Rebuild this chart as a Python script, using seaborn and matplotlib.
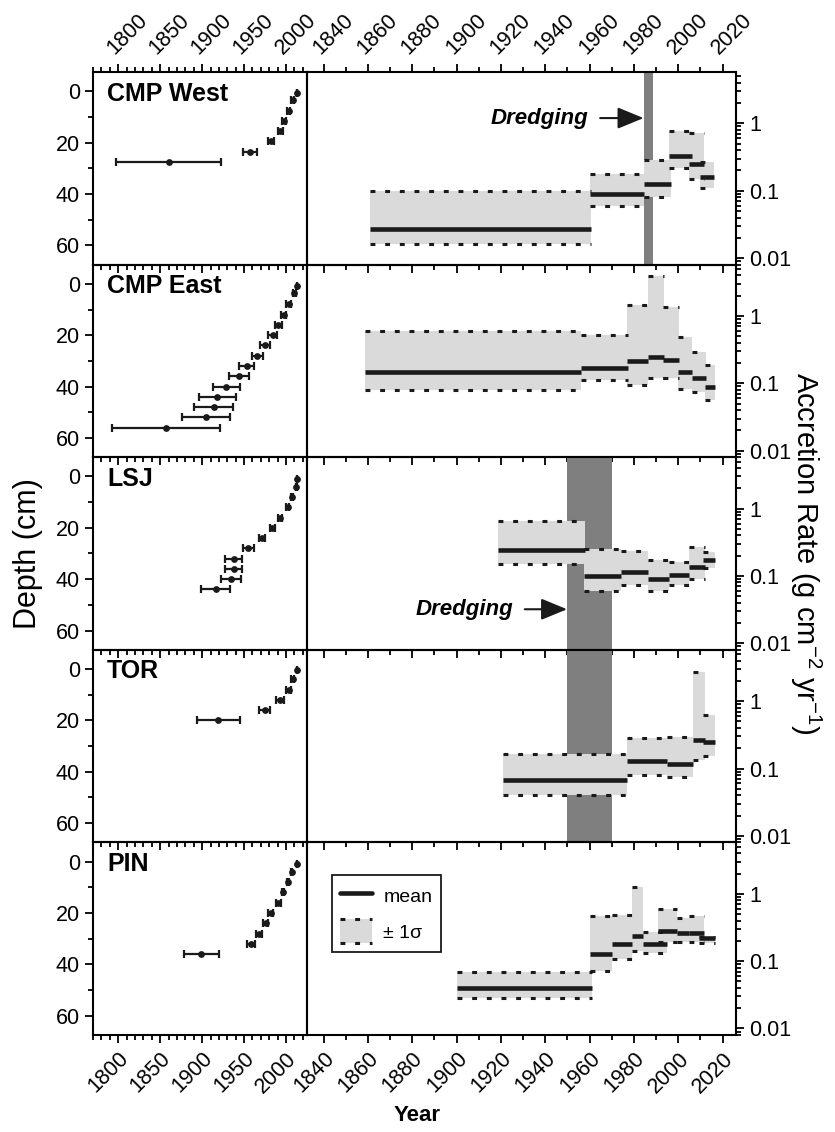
import numpy as np
import matplotlib
matplotlib.use("Agg")
import matplotlib.pyplot as plt
import seaborn as sns
from matplotlib.lines import Line2D
from matplotlib.patches import Rectangle
from matplotlib.legend_handler import HandlerBase
from matplotlib.ticker import MultipleLocator, LogLocator, NullFormatter

# --- data ---
CORES = ["CMP West", "CMP East", "LSJ", "TOR", "PIN"]

# depth profiles: year, depth (cm), +/- year error
CMPW_YEAR = [2013, 2008, 2003, 1998, 1993, 1982, 1957, 1860]
CMPW_DEPTH = [0.5, 3.5, 7.5, 11.5, 15.5, 19.5, 23.5, 27.5]
CMPW_ERR = [0.5, 1.5, 2, 2.5, 3, 4, 8.7, 62.7]

CMPE_YEAR = [2013, 2010, 2003, 1997, 1991, 1984, 1975, 1966, 1953, 1944, 1929, 1918, 1914, 1905, 1857]
CMPE_DEPTH = [1, 3.5, 8, 12, 16, 20, 24, 28, 32, 36, 40, 44, 48, 52, 56]
CMPE_ERR = [0.5, 2, 2.5, 3.5, 4, 5, 6, 6.5, 9, 11.7, 16.5, 22, 23.4, 28.6, 64]

LSJ_YEAR = [2013, 2012, 2007.5, 2002, 1993, 1983.5, 1971, 1955, 1937.5, 1937.5, 1934, 1916]
LSJ_DEPTH = [1, 4, 8, 12, 16, 20, 24, 28, 32, 36, 40, 44]
LSJ_ERR = [0.5, 0.5, 1, 1.5, 2.5, 3, 3.5, 6.7, 10.5, 10, 12, 17.7]

TOR_YEAR = [2013, 2008, 2003, 1993, 1974.5, 1919.5]
TOR_DEPTH = [0.5, 4, 8, 12, 16, 20]
TOR_ERR = [0.5, 2, 2.5, 5, 7, 26]

PIN_YEAR = [2013, 2007, 2002.5, 1996.5, 1991, 1982, 1976, 1968, 1958, 1899]
PIN_DEPTH = [1, 4, 8, 12, 16, 20, 24, 28, 32, 36]
PIN_ERR = [0.5, 0.5, 1, 1.5, 2.5, 3, 3, 3.5, 5, 21]

# accretion rate intervals: start, end, mean, mean-1sd, mean+1sd (g cm-2 yr-1)
CMPW_START = [1861, 1960, 1984.5, 1996, 2005, 2010]
CMPW_END = [1960.5, 1984.5, 1996.5, 2006, 2011.5, 2016]
CMPW_MEAN = [0.0274, 0.089, 0.126, 0.333, 0.251, 0.158]
CMPW_LOW = [0.016, 0.060, 0.081, 0.219, 0.150, 0.110]
CMPW_HIGH = [0.100, 0.178, 0.290, 0.760, 0.720, 0.265]

CMPE_START = [1858.5, 1956, 1977, 1986.5, 1993, 2000, 2006, 2012]
CMPE_END = [1956, 1977.5, 1986.5, 1993.5, 2000.3, 2006.3, 2012.3, 2016.5]
CMPE_MEAN = [0.146, 0.167, 0.213, 0.244, 0.223, 0.146, 0.119, 0.087]
CMPE_LOW = [0.080, 0.113, 0.096, 0.119, 0.119, 0.082, 0.075, 0.056]
CMPE_HIGH = [0.59, 0.53, 1.45, 3.95, 1.36, 0.486, 0.29, 0.187]

LSJ_START = [1918.5, 1957.5, 1974, 1986.5, 1996, 2005, 2011]
LSJ_END = [1958, 1974, 1986.5, 1996, 2005, 2012, 2016.5]
LSJ_MEAN = [0.246, 0.099, 0.115, 0.090, 0.102, 0.136, 0.171]
LSJ_LOW = [0.152, 0.060, 0.0725, 0.060, 0.0725, 0.091, 0.133]
LSJ_HIGH = [0.655, 0.255, 0.236, 0.171, 0.162, 0.271, 0.228]

TOR_START = [1921, 1977, 1995, 2006.5, 2011]
TOR_END = [1977, 1995, 2006.5, 2012, 2016.5]
TOR_MEAN = [0.0678, 0.128, 0.115, 0.262, 0.247]
TOR_LOW = [0.041, 0.081, 0.074, 0.135, 0.151]
TOR_HIGH = [0.166, 0.287, 0.290, 2.68, 0.618]

PIN_START = [1900, 1960, 1970, 1979, 1984, 1991, 1999.5, 2005, 2009.5]
PIN_END = [1961, 1970, 1979, 1984, 1995, 1999.5, 2005, 2011.5, 2016.5]
PIN_MEAN = [0.040, 0.126, 0.178, 0.236, 0.178, 0.280, 0.260, 0.265, 0.218]
PIN_LOW = [0.0283, 0.071, 0.107, 0.141, 0.133, 0.190, 0.190, 0.190, 0.184]
PIN_HIGH = [0.069, 0.474, 0.486, 1.26, 0.274, 0.590, 0.430, 0.470, 0.230]

# dredging periods (None = no dredging shown)
DREDGE = [(1984.5, 1988.7), None, (1950, 1970), (1950, 1970), None]

DEPTHS = [(CMPW_YEAR, CMPW_DEPTH, CMPW_ERR), (CMPE_YEAR, CMPE_DEPTH, CMPE_ERR),
          (LSJ_YEAR, LSJ_DEPTH, LSJ_ERR), (TOR_YEAR, TOR_DEPTH, TOR_ERR),
          (PIN_YEAR, PIN_DEPTH, PIN_ERR)]
RATES = [(CMPW_START, CMPW_END, CMPW_MEAN, CMPW_LOW, CMPW_HIGH),
         (CMPE_START, CMPE_END, CMPE_MEAN, CMPE_LOW, CMPE_HIGH),
         (LSJ_START, LSJ_END, LSJ_MEAN, LSJ_LOW, LSJ_HIGH),
         (TOR_START, TOR_END, TOR_MEAN, TOR_LOW, TOR_HIGH),
         (PIN_START, PIN_END, PIN_MEAN, PIN_LOW, PIN_HIGH)]

BAND_COLOR = "#dadada"
DREDGE_COLOR = "#7f7f7f"
TICK_FS = 15.5
DASH = (1.6, 3.2)

sns.set_theme(style="ticks")
plt.rcParams["font.family"] = ["Liberation Sans", "DejaVu Sans"]
plt.rcParams["mathtext.fontset"] = "custom"
plt.rcParams["mathtext.rm"] = "Liberation Sans"
plt.rcParams["mathtext.it"] = "Liberation Sans:italic"
plt.rcParams["axes.linewidth"] = 1.5
plt.rcParams["axes.edgecolor"] = "black"
plt.rcParams["text.color"] = "black"
plt.rcParams["axes.labelcolor"] = "black"
plt.rcParams["xtick.color"] = "black"
plt.rcParams["ytick.color"] = "black"


class BandHandler(HandlerBase):
    """legend key: grey box with dashed top and bottom edges"""
    def create_artists(self, legend, orig_handle, xdescent, ydescent,
                       width, height, fontsize, trans):
        x0, y0 = -xdescent, -ydescent
        rect = Rectangle((x0, y0), width, height, facecolor=BAND_COLOR,
                         edgecolor="none", transform=trans)
        top = Line2D([x0, x0 + width], [y0 + height] * 2, color="k", lw=2.2,
                     dashes=DASH, transform=trans)
        bot = Line2D([x0, x0 + width], [y0] * 2, color="k", lw=2.2,
                     dashes=DASH, transform=trans)
        return [rect, top, bot]


def style_xticks(ax, first, last, major, minor):
    ax.xaxis.set_minor_locator(MultipleLocator(minor))
    ax.tick_params(axis="x", which="both", direction="out", top=first, labeltop=first,
                   bottom=True, labelbottom=last, labelsize=TICK_FS, width=1.3)
    ax.tick_params(axis="x", which="major", length=6)
    ax.tick_params(axis="x", which="minor", length=3.5)
    for t in ax.xaxis.get_major_ticks():
        t.label1.set_rotation(45)
        t.label1.set_ha("right")
        t.label1.set_va("top")
        t.label1.set_rotation_mode("anchor")
        t.label2.set_rotation(45)
        t.label2.set_ha("left")
        t.label2.set_va("bottom")
        t.label2.set_rotation_mode("anchor")


fig = plt.figure(figsize=(8.35, 11.32), dpi=100)
gs = fig.add_gridspec(5, 2, width_ratios=[214, 429], left=0.1114, right=0.8814,
                      top=0.9364, bottom=0.0857, hspace=0, wspace=0)

for i, core in enumerate(CORES):
    first, last = i == 0, i == len(CORES) - 1

    # --- left: depth vs year ---
    axl = fig.add_subplot(gs[i, 0])
    axl.set_facecolor("none")
    yr, dp, er = DEPTHS[i]
    axl.errorbar(yr, dp, xerr=er, fmt="none", ecolor="k", elinewidth=1.6,
                 capsize=3.2, capthick=1.6, zorder=2)
    sns.scatterplot(x=yr, y=dp, ax=axl, color="k", s=24, linewidth=0, zorder=3, legend=False)
    axl.set_xlim(1770, 2025)
    axl.set_ylim(67.5, -7.5)
    axl.set_xticks([1800, 1850, 1900, 1950, 2000])
    axl.set_yticks([0, 20, 40, 60])
    axl.yaxis.set_minor_locator(MultipleLocator(10))
    axl.tick_params(axis="y", which="both", direction="out", left=True, right=False,
                    labelsize=TICK_FS, width=1.3)
    axl.tick_params(axis="y", which="major", length=6)
    axl.tick_params(axis="y", which="minor", length=3.5)
    style_xticks(axl, first, last, 50, 10)
    axl.set_xlabel("")
    axl.set_ylabel("")
    axl.text(0.065, 0.95, core, transform=axl.transAxes, ha="left", va="top",
             fontsize=18, fontweight="bold", color="black")

    # --- right: accretion rate ---
    axr = fig.add_subplot(gs[i, 1])
    axr.set_facecolor("none")
    st, en, mn, lo, hi = RATES[i]
    if DREDGE[i] is not None:
        axr.axvspan(DREDGE[i][0], DREDGE[i][1], color=DREDGE_COLOR, lw=0, zorder=1)
    for s, e, l, h in zip(st, en, lo, hi):
        axr.fill_between([s, e], [l, l], [h, h], color=BAND_COLOR, lw=0, zorder=2)
    for s, e, l, h in zip(st, en, lo, hi):
        axr.plot([s, e], [h, h], color="k", lw=2.2, dashes=DASH, zorder=3)
        axr.plot([s, e], [l, l], color="k", lw=2.2, dashes=DASH, zorder=3)
    for s, e, m in zip(st, en, mn):
        axr.plot([s, e], [m, m], color="k", lw=3.3, solid_capstyle="butt", zorder=4)
    axr.set_yscale("log")
    axr.set_xlim(1832.5, 2026)
    axr.set_ylim(0.008, 5.8)
    axr.set_xticks(np.arange(1840, 2021, 20))
    axr.set_yticks([0.01, 0.1, 1])
    axr.set_yticklabels(["0.01", "0.1", "1"])
    axr.yaxis.set_minor_locator(LogLocator(base=10, subs=np.arange(2, 10)))
    axr.yaxis.set_minor_formatter(NullFormatter())
    axr.yaxis.tick_right()
    axr.tick_params(axis="y", which="both", direction="out", left=False, right=True,
                    labelleft=False, labelright=True, labelsize=TICK_FS, width=1.3)
    axr.tick_params(axis="y", which="major", length=6)
    axr.tick_params(axis="y", which="minor", length=3.5)
    style_xticks(axr, first, last, 20, 10)

    arrow = dict(arrowstyle="-|>,head_length=0.8,head_width=0.33", color="k", lw=1.5,
                 mutation_scale=20, shrinkA=6, shrinkB=0)
    if i == 0:
        axr.annotate("Dredging", xy=(1984.3, 1.2), xytext=(1959.5, 1.2), ha="right",
                     va="center", fontsize=16, fontweight="bold", fontstyle="italic",
                     arrowprops=arrow, zorder=5)
    if i == 2:
        axr.annotate("Dredging", xy=(1949.8, 0.032), xytext=(1925.5, 0.032), ha="right",
                     va="center", fontsize=16, fontweight="bold", fontstyle="italic",
                     arrowprops=arrow, zorder=5)
    if last:
        mean_h = Line2D([], [], color="k", lw=3.3)
        band_h = Rectangle((0, 0), 1, 1)
        leg = axr.legend([mean_h, band_h], ["mean", "\u00b1 1\u03c3"],
                         handler_map={band_h: BandHandler()}, loc="upper left",
                         bbox_to_anchor=(0.035, 0.88), fontsize=14, frameon=True,
                         fancybox=False, edgecolor="k", framealpha=1, handlelength=1.6,
                         handleheight=1.5, borderpad=0.45, labelspacing=0.6,
                         handletextpad=0.6)
        leg.get_frame().set_linewidth(1.3)

fig.text(28 / 835, 0.511, "Depth (cm)", rotation=90, ha="center", va="center", fontsize=22)
fig.text(806 / 835, 0.511, "Accretion Rate (g cm$^{-2}$ yr$^{-1}$)", rotation=270,
         ha="center", va="center", fontsize=21)
fig.text(0.5, 0.015, "Year", ha="center", va="center", fontsize=16, fontweight="bold")

fig.savefig("out.png", dpi=100)
